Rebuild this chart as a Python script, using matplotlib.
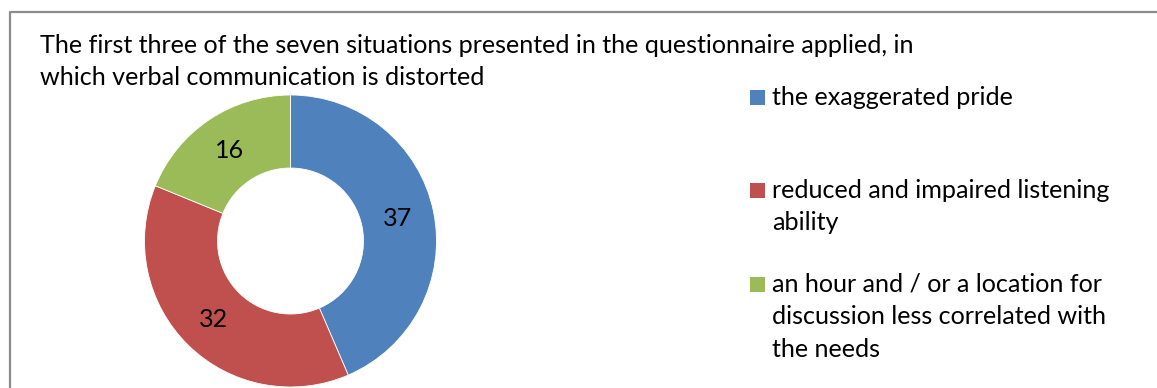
import matplotlib
matplotlib.use("Agg")
import matplotlib.pyplot as plt
from matplotlib.patches import Rectangle
from matplotlib.lines import Line2D
from matplotlib.transforms import Affine2D

categories = ["the exaggerated pride",
              "reduced and impaired listening\nability",
              "an hour and / or a location for\ndiscussion less correlated with\nthe needs"]
values = [37, 32, 16]
colors = ["#4F81BD", "#C0504D", "#9BBB59"]
title_lines = ["The first three of the seven situations presented in the questionnaire applied, in",
               "which verbal communication is distorted"]

W, H = 1157, 388
FONT = ["Lato", "DejaVu Sans"]
FS = 18.1
fig = plt.figure(figsize=(W / 100, H / 100), dpi=100)
fig.patch.set_facecolor("white")

# pixel transform with origin at top-left
px = Affine2D().scale(1 / W, -1 / H).translate(0, 1) + fig.transFigure

# border (left and top, continuing out of frame)
fig.add_artist(Line2D([9.5, 9.5, W + 5], [H + 5, 11.5, 11.5], transform=px,
                      color="#8c8c8c", lw=1.6))

# title
for i, line in enumerate(title_lines):
    fig.text(40, 53 + 32 * i, line, transform=px, fontsize=FS, family=FONT,
             va="baseline", ha="left", color="black")

# donut
cx, cy, R = 290.5, 241.0, 146.0
ax = fig.add_axes([(cx - R) / W, (H - cy - R) / H, 2 * R / W, 2 * R / H])
total = sum(values)
wedges, texts, autotexts = ax.pie(
    values, colors=colors, startangle=90, counterclock=False,
    wedgeprops=dict(width=0.5, edgecolor="white", linewidth=0.6),
    autopct=lambda p: f"{round(p * total / 100)}", pctdistance=0.75)
for t in autotexts:
    t.set_fontsize(FS)
    t.set_family(FONT)
    t.set_color("black")
ax.set_xlim(-1, 1)
ax.set_ylim(-1, 1)
ax.set_aspect("equal")
ax.axis("off")
for w in wedges:
    w.set_clip_on(False)

# legend
leg_x_box, leg_x_text = 750, 772
first_baselines = [105, 198, 292]
line_step = 32.5
for lab, col, yb in zip(categories, colors, first_baselines):
    fig.add_artist(Rectangle((leg_x_box, yb), 15, -15, transform=px,
                             facecolor=col, edgecolor="none"))
    for j, ln in enumerate(lab.split("\n")):
        fig.text(leg_x_text, yb + line_step * j, ln, transform=px, fontsize=FS,
                 family=FONT, va="baseline", ha="left", color="black")

fig.savefig("out.png", dpi=100, facecolor="white")
